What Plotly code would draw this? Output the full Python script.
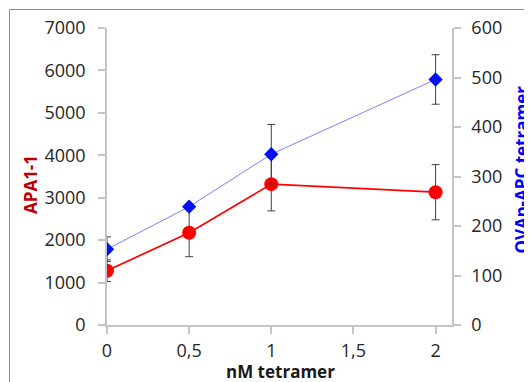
import plotly.graph_objects as go

x_vals = [0, 0.5, 1, 2]
apa_vals = [1280, 2175, 3320, 3130]
apa_err = [255, 565, 630, 650]
ova_vals = [153, 239, 345, 496]
ova_err = [25, 5, 60, 50]

x_ticks = [0, 0.5, 1, 1.5, 2]
x_ticktext = ["0", "0,5", "1", "1,5", "2"]
y1_ticks = [0, 1000, 2000, 3000, 4000, 5000, 6000, 7000]
y2_ticks = [0, 100, 200, 300, 400, 500, 600]

W, H = 532, 382
OFF = 8  # page body margin offset
L, R, T, B = 107 - OFF, 452 - OFF, 28 - OFF, 325 - OFF
pw, ph = R - L, B - T

def px(xp):
    return (xp - OFF - L) / pw

def py(yp):
    return (B - (yp - OFF)) / ph

FONT = "Open Sans"
TICKCOL = "#262626"
AXCOL = "#c4c4c4"

fig = go.Figure()
fig.add_trace(go.Scatter(
    x=x_vals, y=ova_vals, yaxis="y2", mode="lines+markers",
    line=dict(color="#8080ff", width=1),
    marker=dict(symbol="diamond", size=11, color="#0010f0"),
    error_y=dict(type="data", array=ova_err, color="#404040", thickness=1, width=4),
    showlegend=False,
))
fig.add_trace(go.Scatter(
    x=x_vals, y=apa_vals, yaxis="y", mode="lines+markers",
    line=dict(color="#ff0000", width=1.7),
    marker=dict(symbol="circle", size=14, color="#ff0000"),
    error_y=dict(type="data", array=apa_err, color="#404040", thickness=1, width=4),
    showlegend=False,
))

fig.add_shape(type="rect", xref="paper", yref="paper",
              x0=px(9.5), x1=px(W + 20), y0=py(H + 20), y1=py(9.5),
              line=dict(color="#8c8c8c", width=1), fillcolor="rgba(0,0,0,0)", layer="below")

title_font = dict(family=FONT, size=17, weight="bold")
fig.add_annotation(text="APA1-1", xref="paper", yref="paper", x=px(31), y=py(185),
                   xanchor="center", yanchor="middle", textangle=-90, showarrow=False,
                   font=dict(**title_font, color="#c00000"))
fig.add_annotation(text="OVAp-APC tetramer", xref="paper", yref="paper", x=px(520.5), y=py(170),
                   xanchor="center", yanchor="middle", textangle=-90, showarrow=False,
                   font=dict(**title_font, color="#0000ff"))
fig.add_annotation(text="nM tetramer", xref="paper", yref="paper", x=px(280), y=py(371),
                   xanchor="center", yanchor="middle", showarrow=False,
                   font=dict(**title_font, color="#1a1a1a"))

axis_common = dict(showgrid=False, zeroline=False, showline=True, linecolor=AXCOL, linewidth=1.5,
                   ticks="outside", ticklen=7, tickcolor=AXCOL, tickwidth=1.5, automargin=False)

fig.update_layout(
    width=W, height=H,
    margin=dict(l=L, r=W - R, t=T, b=H - B, pad=0),
    paper_bgcolor="white", plot_bgcolor="white",
    font=dict(family=FONT, size=18, color=TICKCOL),
    xaxis=dict(range=[0, 2.1], tickvals=x_ticks, ticktext=x_ticktext,
               ticklabelstandoff=2, **axis_common),
    yaxis=dict(range=[0, 7000], tickvals=y1_ticks, ticklabelstandoff=9, **axis_common),
    yaxis2=dict(range=[0, 600], tickvals=y2_ticks, overlaying="y", side="right",
                ticklabelstandoff=7, **axis_common),
)

fig.write_html("out.html")
